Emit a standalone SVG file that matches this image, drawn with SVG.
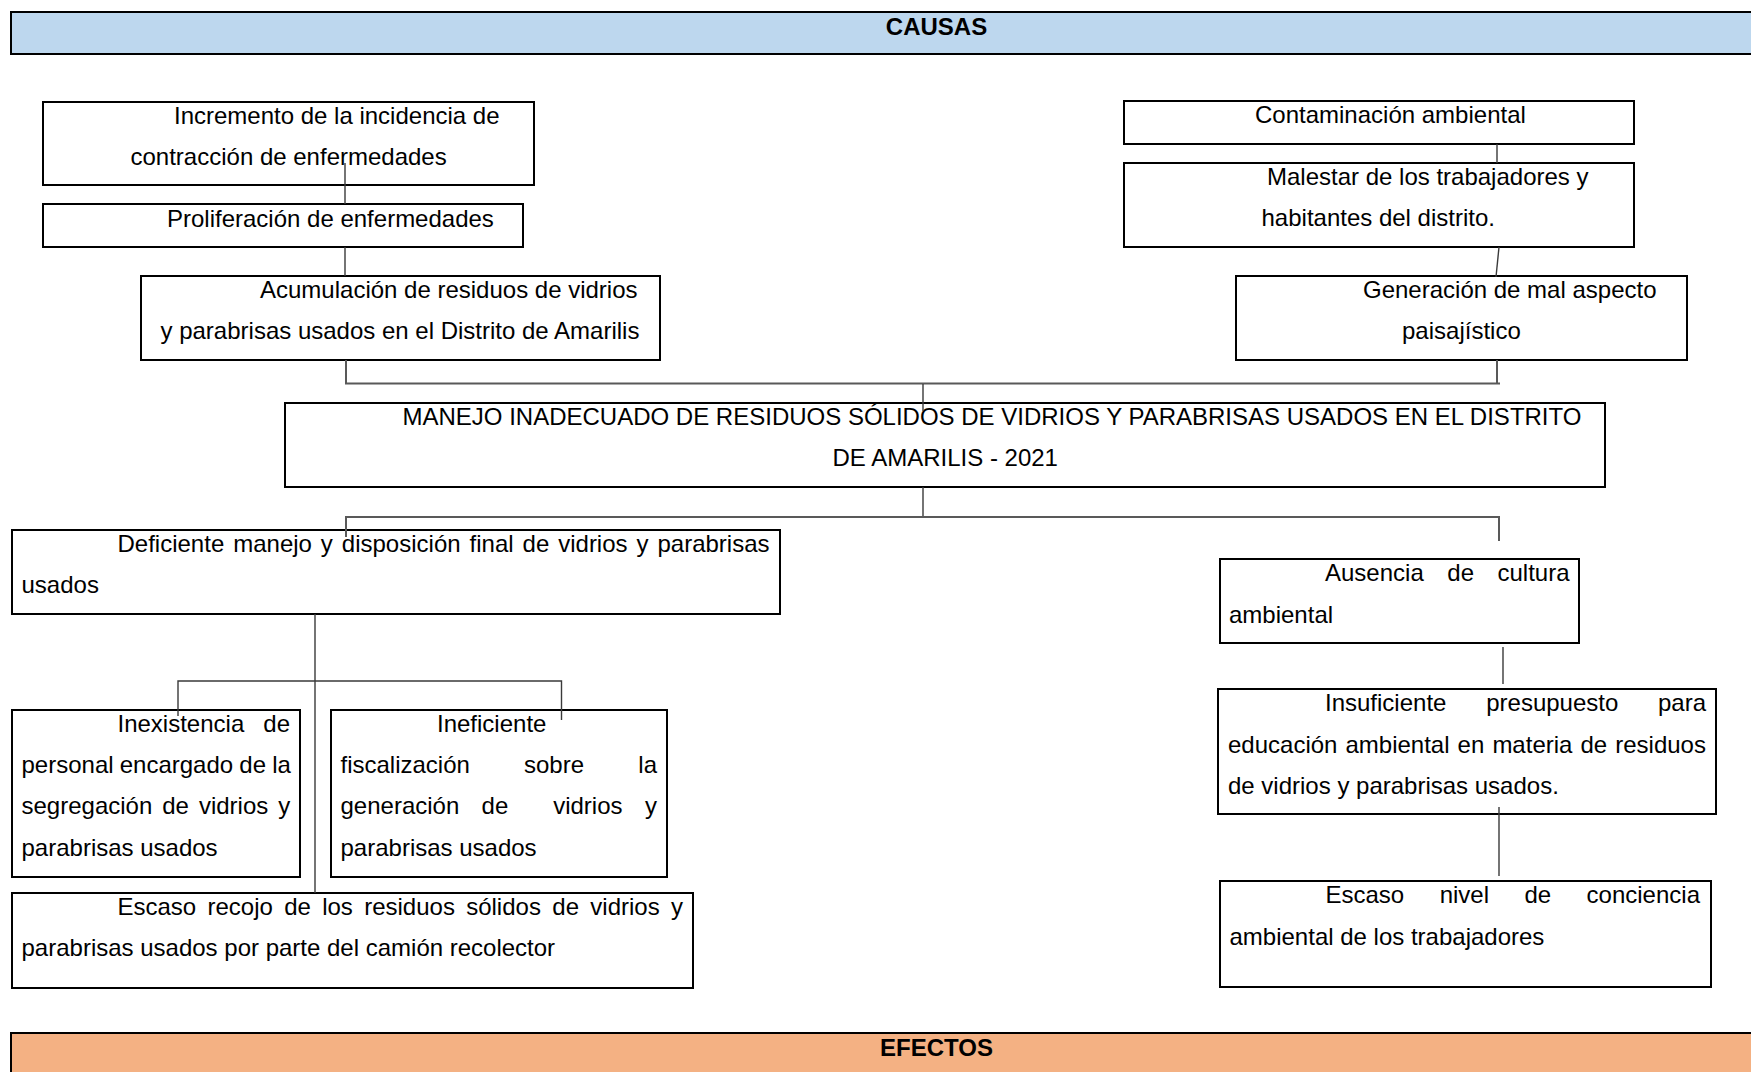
<svg xmlns="http://www.w3.org/2000/svg" width="1751" height="1072" viewBox="0 0 1751 1072">
<style>
text{font-family:"Liberation Sans",Arial,sans-serif;font-size:24px;fill:#000}
.hd{font-weight:bold}
.box{fill:#fff;stroke:#000;stroke-width:2}
.con{fill:none;stroke:#3a3a3a;stroke-width:1.4}
.bus{fill:none;stroke:#595959;stroke-width:2}
</style>
<rect width="1751" height="1072" fill="#fff"/>
<g id="causas">
<rect x="11" y="12" width="1760" height="42" fill="#BDD7EE" stroke="#000" stroke-width="2"/>
<text class="hd" x="936.5" y="35" text-anchor="middle">CAUSAS</text>
</g>
<g id="efectos">
<rect x="11" y="1033" width="1760" height="60" fill="#F4B183" stroke="#000" stroke-width="2"/>
<text class="hd" x="936.5" y="1056" text-anchor="middle">EFECTOS</text>
</g>
<g id="incremento">
<rect class="box" x="43" y="102" width="491" height="83"/>
<text x="174" y="124.2">Incremento de la incidencia de</text>
<text x="130.5" y="164.5">contracción de enfermedades</text>
</g>
<g id="proliferacion">
<rect class="box" x="43" y="204" width="480" height="43"/>
<text x="167" y="226.5">Proliferación de enfermedades</text>
</g>
<g id="acumulacion">
<rect class="box" x="141" y="276" width="519" height="84"/>
<text x="260" y="298">Acumulación de residuos de vidrios</text>
<text x="160.5" y="339.4">y parabrisas usados en el Distrito de Amarilis</text>
</g>
<g id="contaminacion">
<rect class="box" x="1124" y="101" width="510" height="43"/>
<text x="1255" y="123">Contaminación ambiental</text>
</g>
<g id="malestar">
<rect class="box" x="1124" y="163" width="510" height="84"/>
<text x="1267" y="185">Malestar de los trabajadores y</text>
<text x="1261.5" y="226.4">habitantes del distrito.</text>
</g>
<g id="generacion">
<rect class="box" x="1236" y="276" width="451" height="84"/>
<text x="1363" y="298">Generación de mal aspecto</text>
<text x="1402" y="339.4">paisajístico</text>
</g>
<g id="problema">
<rect class="box" x="285" y="403" width="1320" height="84"/>
<text x="402.5" y="425">MANEJO INADECUADO DE RESIDUOS SÓLIDOS DE VIDRIOS Y PARABRISAS USADOS EN EL DISTRITO</text>
<text x="832.5" y="466.4">DE AMARILIS - 2021</text>
</g>
<g id="deficiente">
<rect class="box" x="12" y="530" width="768" height="84"/>
<text x="117.5" y="551.5" word-spacing="2.3">Deficiente manejo y disposición final de vidrios y parabrisas</text>
<text x="21.5" y="593">usados</text>
</g>
<g id="inexistencia">
<rect class="box" x="12" y="710" width="288" height="167"/>
<text y="731.5"><tspan x="117.5">Inexistencia</tspan><tspan x="263.3">de</tspan></text>
<text x="21.5" y="773" word-spacing="-0.5">personal encargado de la</text>
<text x="21.5" y="814.4" word-spacing="3.3">segregación de vidrios y</text>
<text x="21.5" y="855.8">parabrisas usados</text>
</g>
<g id="ineficiente">
<rect class="box" x="331" y="710" width="336" height="167"/>
<text x="437" y="731.5">Ineficiente</text>
<text y="773"><tspan x="340.5">fiscalización</tspan><tspan x="524">sobre</tspan><tspan x="638.3">la</tspan></text>
<text y="814.4"><tspan x="340.5">generación</tspan><tspan x="481.6">de</tspan><tspan x="553.2">vidrios</tspan><tspan x="645">y</tspan></text>
<text x="340.5" y="855.8">parabrisas usados</text>
</g>
<g id="escaso-recojo">
<rect class="box" x="12" y="893" width="681" height="95"/>
<text y="915"><tspan x="117.5">Escaso</tspan><tspan x="207.5">recojo</tspan><tspan x="284.2">de</tspan><tspan x="322.2">los</tspan><tspan x="364.2">residuos</tspan><tspan x="466.2">sólidos</tspan><tspan x="552.3">de</tspan><tspan x="590.3">vidrios</tspan><tspan x="671">y</tspan></text>
<text x="21.5" y="956.4">parabrisas usados por parte del camión recolector</text>
</g>
<g id="ausencia">
<rect class="box" x="1220" y="559" width="359" height="84"/>
<text y="581.2"><tspan x="1325">Ausencia</tspan><tspan x="1447.3">de</tspan><tspan x="1497.5">cultura</tspan></text>
<text x="1229" y="622.6">ambiental</text>
</g>
<g id="insuficiente">
<rect class="box" x="1218" y="689" width="498" height="125"/>
<text y="711.2"><tspan x="1325">Insuficiente</tspan><tspan x="1486.2">presupuesto</tspan><tspan x="1658">para</tspan></text>
<text x="1228" y="752.6" word-spacing="1.4">educación ambiental en materia de residuos</text>
<text x="1228" y="794">de vidrios y parabrisas usados.</text>
</g>
<g id="escaso-nivel">
<rect class="box" x="1220" y="881" width="491" height="106"/>
<text y="903.2"><tspan x="1325.5">Escaso</tspan><tspan x="1439.7">nivel</tspan><tspan x="1524.5">de</tspan><tspan x="1586.6">conciencia</tspan></text>
<text x="1229.5" y="944.6">ambiental de los trabajadores</text>
</g>
<g id="connectors">
<path class="con" d="M345 163V204"/>
<path class="con" d="M345 247V276"/>
<path class="con" d="M1497 144V163"/>
<path class="con" d="M1499 247L1496 277"/>
<path class="bus" d="M346 360V383.5H1500"/>
<path class="bus" d="M1497 360V383.5"/>
<path class="con" d="M923 384V411"/>
<path class="con" d="M923 487V517"/>
<path class="bus" d="M346 537V517H1499V541"/>
<path class="con" d="M315 614V893"/>
<path class="con" d="M178 716V681H561.5V720"/>
<path class="con" d="M1503 647V684"/>
<path class="con" d="M1499 807V876"/>
</g>
</svg>
